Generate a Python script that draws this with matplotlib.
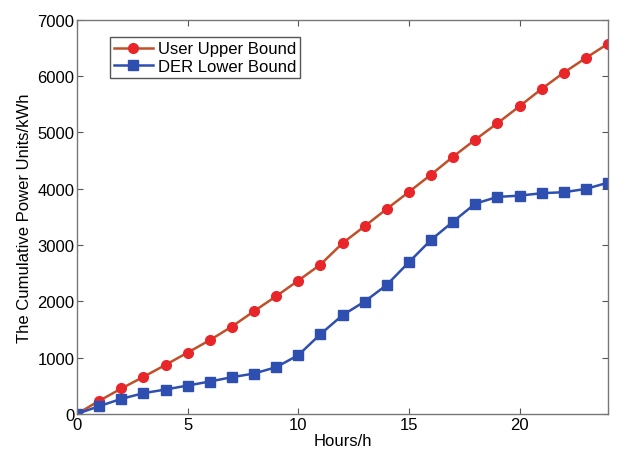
import matplotlib
matplotlib.use("Agg")
import matplotlib.pyplot as plt
import numpy as np

plt.rcParams['font.family'] = ['Liberation Sans', 'DejaVu Sans']

hours = np.arange(0, 25)
user_upper = [0, 231, 450, 657, 870, 1089, 1309, 1551, 1824, 2090, 2368, 2652, 3032,
              3334, 3641, 3943, 4250, 4570, 4872, 5163, 5465, 5773, 6062, 6323, 6577]
der_lower = [0, 136, 266, 367, 432, 503, 574, 651, 716, 829, 1042, 1415, 1753,
             1995, 2291, 2694, 3091, 3416, 3735, 3854, 3877, 3920, 3938, 3996, 4108]

fig = plt.figure(figsize=(6.32, 4.64), dpi=100)
ax = fig.add_axes([0.122, 0.106, 0.840, 0.849])

ax.plot(hours, user_upper, color='#c0502a', lw=1.8, marker='o', ms=7,
        markerfacecolor='#e8262a', markeredgecolor='#e8262a', label='User Upper Bound')
ax.plot(hours, der_lower, color='#2f4fb0', lw=1.8, marker='s', ms=7,
        markerfacecolor='#2f4fb0', markeredgecolor='#2f4fb0', label='DER Lower Bound')

ax.set_xlim(0, 24)
ax.set_ylim(0, 7000)
ax.set_xticks([0, 5, 10, 15, 20])
ax.set_yticks(np.arange(0, 7001, 1000))
ax.tick_params(direction='in', top=True, right=True, labelsize=12, length=4,
               color='#555555', pad=2)
for s in ax.spines.values():
    s.set_color('#777777')
    s.set_linewidth(1.0)

ax.set_xlabel('Hours/h', fontsize=12, labelpad=1)
ax.set_ylabel('The Cumulative Power Units/kWh', fontsize=12, labelpad=4)

leg = ax.legend(loc='upper left', bbox_to_anchor=(0.062, 0.956), fontsize=12,
                fancybox=False, framealpha=1, borderpad=0.25, labelspacing=0.15,
                handlelength=2.3, handletextpad=0.3, borderaxespad=0)
leg.get_frame().set_edgecolor('#555555')

fig.savefig('out.png', dpi=100)
